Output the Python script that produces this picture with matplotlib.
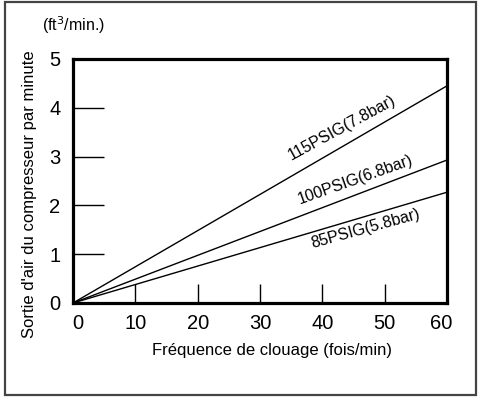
import matplotlib

matplotlib.use("Agg")
import matplotlib.pyplot as plt
import matplotlib.transforms as mtransforms
from matplotlib.patches import Rectangle

plt.rcParams["font.family"] = ["Liberation Sans", "DejaVu Sans"]

# nailing frequency (fois/min) and air output at 60 fois/min for each pressure
X_RANGE = [0, 60]
SERIES = ["115PSIG(7.8bar)", "100PSIG(6.8bar)", "85PSIG(5.8bar)"]
OUTPUT_AT_60 = [4.45, 2.93, 2.27]
# label anchor points (x, y) in data units and rotation
LABEL_POS = [(43.2, 3.6), (45.3, 2.53), (46.9, 1.53)]
LABEL_ROT = [28.5, 19.5, 15.5]
X_TICKS = [0, 10, 20, 30, 40, 50, 60]
Y_TICKS = [0, 1, 2, 3, 4, 5]

W, H = 481, 398
fig = plt.figure(figsize=(W / 100, H / 100), dpi=100)

frame = Rectangle((5 / W, 3 / H), 471 / W, 393 / H, transform=fig.transFigure,
                  fill=False, edgecolor="#444444", linewidth=1.6)
fig.patches.append(frame)

ax = fig.add_axes([73 / W, 1 - 303 / H, 374 / W, 244 / H])
for name, y60, pos, rot in zip(SERIES, OUTPUT_AT_60, LABEL_POS, LABEL_ROT):
    ax.plot(X_RANGE, [0, y60], color="black", linewidth=1.0)
    ax.text(pos[0], pos[1], name, rotation=rot, rotation_mode="anchor",
            ha="center", va="center", fontsize=11.5)

ax.set_xlim(0, 60)
ax.set_ylim(0, 5)
ax.set_xticks(X_TICKS)
ax.set_yticks(Y_TICKS)
for spine in ax.spines.values():
    spine.set_linewidth(2.3)
ax.tick_params(axis="x", direction="in", length=14, width=1.0, pad=8, labelsize=14.5)
ax.tick_params(axis="y", direction="in", length=22, width=1.0, pad=9, labelsize=14.5)

# first and last x tick labels sit a little inside the ends, as in the original
xlabels = ax.get_xticklabels()
xlabels[0].set_transform(xlabels[0].get_transform()
                         + mtransforms.ScaledTranslation(5 / 100, 0, fig.dpi_scale_trans))
xlabels[-1].set_transform(xlabels[-1].get_transform()
                          + mtransforms.ScaledTranslation(-6 / 100, 0, fig.dpi_scale_trans))

fig.text(30 / W, 1 - 194 / H, "Sortie d'air du compresseur par minute",
         rotation=90, ha="center", va="center", fontsize=12)
fig.text(42 / W, 1 - 25 / H, "(ft$^3$/min.)", ha="left", va="center", fontsize=11.5)
fig.text(272 / W, 1 - 350 / H, "Fréquence de clouage (fois/min)",
         ha="center", va="center", fontsize=12)

fig.savefig("out.png", dpi=100)
